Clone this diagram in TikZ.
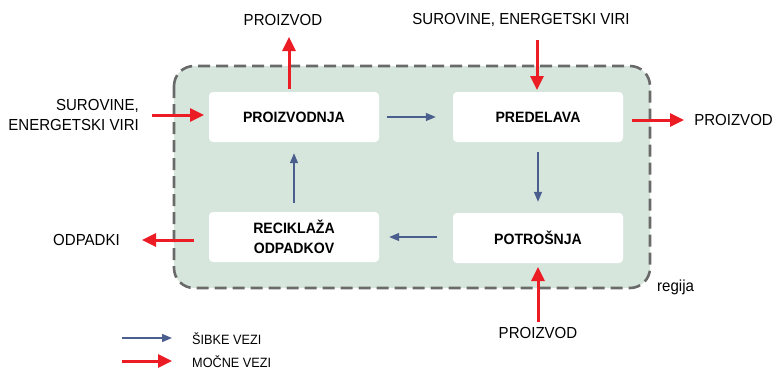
\documentclass[tikz,border=0pt]{standalone}
\usepackage{fontspec}
\setmainfont{Liberation Sans}[FakeStretch=0.94]
\usetikzlibrary{arrows.meta}
\definecolor{regfill}{HTML}{D6E6DC}
\definecolor{regline}{HTML}{6A6A6A}
\definecolor{strong}{HTML}{EC1C24}
\definecolor{weak}{HTML}{4A5F8E}
\tikzset{
  box/.style={fill=white, rounded corners=4pt, minimum width=170pt, minimum height=50pt, inner sep=0pt, font=\bfseries\fontsize{15}{20}\selectfont, align=center},
  lbl/.style={font=\fontsize{16}{20}\selectfont, inner sep=0pt},
  leg/.style={font=\fontsize{13.5}{15}\selectfont, inner sep=0pt, anchor=west},
  weakarr/.style={draw=weak, line width=1.4pt, -{Triangle[length=10pt,width=8pt]}},
  strongarr/.style={draw=strong, line width=3pt, -{Triangle[length=14pt,width=13pt]}},
}
\begin{document}
\begin{tikzpicture}[x=1pt,y=-1pt]
\useasboundingbox (0,0) rectangle (774,370);
\draw[regline, fill=regfill, line width=2.6pt, dash pattern=on 12pt off 6pt, rounded corners=20pt] (174,66) rectangle (650,288);
\node[box] (pr) at (294,117) {PROIZVODNJA};
\node[box] (pd) at (538,117) {PREDELAVA};
\node[box] (re) at (294,237) {RECIKLAŽA\\ODPADKOV};
\node[box] (po) at (538,238) {POTROŠNJA};
% weak
\draw[weakarr] ([xshift=8pt]pr.east) -- ([xshift=-17pt]pd.west |- pr.east);
\draw[weakarr] ([yshift=-10pt]pd.south) -- ([yshift=11pt]po.north);
\draw[weakarr] ([xshift=-16pt]po.west |- re.east) -- ([xshift=10pt]re.east);
\draw[weakarr] ([yshift=9pt]re.north) -- ([yshift=-11pt]pr.south);
% labels
\node[lbl] (l1) at (283,20) {PROIZVOD};
\node[lbl] (l2) at (521,20) {SUROVINE, ENERGETSKI VIRI};
\node[lbl, align=right, anchor=east] (l3) at (139,115) {SUROVINE,\\ENERGETSKI VIRI};
\node[lbl, anchor=east] (l4) at (773,120) {PROIZVOD};
\node[lbl, anchor=east] (l5) at (120,240) {ODPADKI};
\node[lbl] (l6) at (538,333) {PROIZVOD};
\node[lbl, anchor=west] (l7) at (657,287) {regija};
\coordinate (s1) at (289,89);
\coordinate (e1) at (289,37);
\coordinate (s2) at (537,40);
\coordinate (e2) at (537,90);
\coordinate (s3) at (152,115);
\coordinate (e3) at (204,115);
\coordinate (s4) at (632,120);
\coordinate (e4) at (684,120);
\coordinate (s5) at (194,240);
\coordinate (e5) at (142,240);
\coordinate (s6) at (538,322);
\coordinate (e6) at (538,267);
\draw[strongarr] (s1) -- (e1);
\draw[strongarr] (s2) -- (e2);
\draw[strongarr] (s3) -- (e3);
\draw[strongarr] (s4) -- (e4);
\draw[strongarr] (s5) -- (e5);
\draw[strongarr] (s6) -- (e6);
% legend
\coordinate (la) at (122,338);
\coordinate (lb) at (172,338);
\coordinate (lc) at (122,361);
\coordinate (ld) at (172,361);
\draw[weakarr] (la) -- (lb);
\draw[strongarr] (lc) -- (ld);
\node[leg] (t1) at (192,339) {ŠIBKE VEZI};
\node[leg] (t2) at (192,362) {MOČNE VEZI};
\end{tikzpicture}
\end{document}
